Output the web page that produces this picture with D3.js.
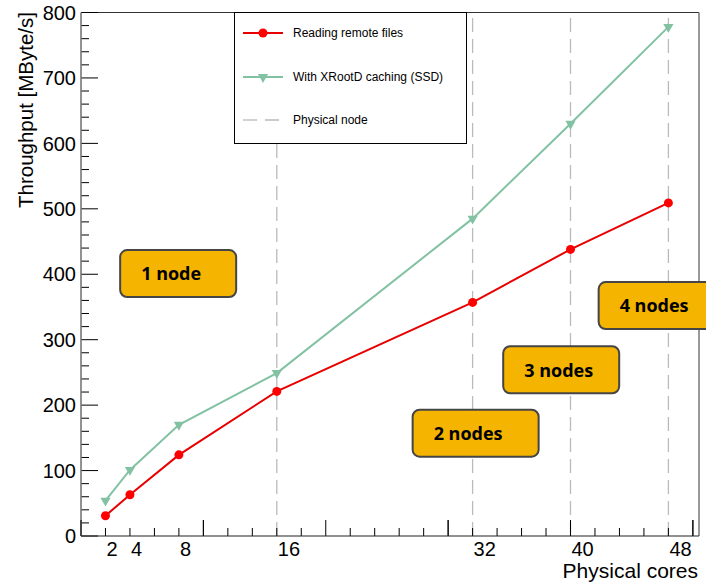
<!DOCTYPE html>
<html lang="en">
    <head>
        <meta charset="utf-8">
        <title>Throughput vs physical cores</title>
        <style>
          body { margin: 0; background: white; }
          svg { display: block; }
          .ticklabel, .title {
            font-family: "Liberation Sans", Arial, sans-serif;
            fill: black;
          }
          .legtext {
            font-family: "Liberation Sans", Arial, sans-serif;
            font-size: 12px;
            fill: black;
          }
          .boxtext {
            font-family: "Open Sans", "Noto Sans", sans-serif;
            font-weight: bold;
            font-size: 18px;
            fill: black;
          }
        </style>
        <script src="https://d3js.org/d3.v7.min.js"></script>
    </head>
    <body>
        <script type="text/javascript">
          // data
          var cores = [2, 4, 8, 16, 32, 40, 48];
          var remote = [31, 63, 124, 221, 357, 438, 509];
          var cached = [54, 101, 170, 249, 485, 630, 778];
          var nodeCores = [16, 32, 40, 48];
          var xTickLabels = ["2", "4", "8", "16", "32", "40", "48"];
          var yTicks = [0, 100, 200, 300, 400, 500, 600, 700, 800];
          var boxLabels = ["1 node", "2 nodes", "3 nodes", "4 nodes"];
          // box anchor in data coords (left core, top throughput)
          var boxCore = [3.2, 27.1, 34.5, 42.3];
          var boxVal = [437, 193, 290, 388];
          var legendNames = ["Reading remote files", "With XRootD caching (SSD)", "Physical node"];

          var w = 706;
          var h = 583;

          var svg = d3.select("body").append("svg")
            .attr("width", w)
            .attr("height", h);

          var x = d3.scaleLinear().domain([0, 50.5]).range([81, 699]);
          var y = d3.scaleLinear().domain([0, 800]).range([536, 12.5]);

          var red = "#e80000";
          var green = "#82c2a3";

          // physical node lines
          svg.selectAll(".nodeline")
            .data(nodeCores)
            .enter().append("line")
            .attr("class", "nodeline")
            .attr("x1", function(d) { return x(d); })
            .attr("x2", function(d) { return x(d); })
            .attr("y1", y(0))
            .attr("y2", y(800))
            .attr("stroke", "#bbbbbb")
            .attr("stroke-width", 1.3)
            .attr("stroke-dasharray", "14,7");

          // frame
          svg.append("line")
            .attr("x1", x(0)).attr("x2", x(50.5))
            .attr("y1", y(800)).attr("y2", y(800))
            .attr("stroke", "#333").attr("stroke-width", 1);
          svg.append("line")
            .attr("x1", x(50.5)).attr("x2", x(50.5))
            .attr("y1", y(800)).attr("y2", y(0))
            .attr("stroke", "#777").attr("stroke-width", 1.5);

          // y axis
          var yMinor = d3.range(0, 801, 20);
          svg.selectAll(".ytick")
            .data(yMinor)
            .enter().append("line")
            .attr("class", "ytick")
            .attr("x1", x(0))
            .attr("x2", function(d) { return x(0) + (d % 100 == 0 ? 17 : 8); })
            .attr("y1", function(d) { return y(d); })
            .attr("y2", function(d) { return y(d); })
            .attr("stroke", "black")
            .attr("stroke-width", 1);
          svg.append("line")
            .attr("x1", x(0)).attr("x2", x(0))
            .attr("y1", y(0)).attr("y2", y(800))
            .attr("stroke", "#777").attr("stroke-width", 1.6);
          svg.selectAll(".ylabel")
            .data(yTicks)
            .enter().append("text")
            .attr("class", "ticklabel")
            .attr("x", x(0) - 5)
            .attr("y", function(d) { return y(d); })
            .attr("dy", "0.36em")
            .attr("text-anchor", "end")
            .style("font-size", "20px")
            .text(function(d) { return d; });

          // x axis
          var xMinor = d3.range(0, 51, 2).concat([10, 30, 50]);
          svg.selectAll(".xtick")
            .data(xMinor)
            .enter().append("line")
            .attr("class", "xtick")
            .attr("x1", function(d) { return x(d); })
            .attr("x2", function(d) { return x(d); })
            .attr("y1", y(0))
            .attr("y2", function(d) { return y(0) - (d % 10 == 0 ? 16 : 8); })
            .attr("stroke", "black")
            .attr("stroke-width", 1);
          svg.append("line")
            .attr("x1", x(0)).attr("x2", x(50.5))
            .attr("y1", y(0)).attr("y2", y(0))
            .attr("stroke", "#222").attr("stroke-width", 1.2);
          svg.selectAll(".xlabel")
            .data(cores)
            .enter().append("text")
            .attr("class", "ticklabel")
            .attr("x", function(d) { return x(d) + 1; })
            .attr("y", 556)
            .attr("text-anchor", "start")
            .style("font-size", "20px")
            .text(function(d, i) { return xTickLabels[i]; });

          // axis titles
          svg.append("text")
            .attr("class", "title")
            .attr("x", 698)
            .attr("y", 578)
            .attr("text-anchor", "end")
            .style("font-size", "21px")
            .text("Physical cores");
          svg.append("text")
            .attr("class", "title")
            .attr("transform", "translate(33,12) rotate(-90)")
            .attr("text-anchor", "end")
            .style("font-size", "20.5px")
            .text("Throughput [MByte/s]");

          // legend
          var leg = svg.append("g");
          leg.append("rect")
            .attr("x", 234.5).attr("y", 12.5)
            .attr("width", 232).attr("height", 131)
            .attr("fill", "white")
            .attr("stroke", "black").attr("stroke-width", 1);
          var legY = [33, 77, 120];
          leg.append("line")
            .attr("x1", 243).attr("x2", 283).attr("y1", legY[0]).attr("y2", legY[0])
            .attr("stroke", red).attr("stroke-width", 2);
          leg.append("circle")
            .attr("cx", 263).attr("cy", legY[0]).attr("r", 4.5).attr("fill", "#ff0000");
          leg.append("line")
            .attr("x1", 243).attr("x2", 283).attr("y1", legY[1]).attr("y2", legY[1])
            .attr("stroke", green).attr("stroke-width", 2);
          leg.append("path")
            .attr("d", d3.symbol().type(d3.symbolTriangle).size(45))
            .attr("transform", "translate(263," + legY[1] + ") rotate(180)")
            .attr("fill", green);
          leg.append("line")
            .attr("x1", 243).attr("x2", 283).attr("y1", legY[2]).attr("y2", legY[2])
            .attr("stroke", "#bbbbbb").attr("stroke-width", 1.3)
            .attr("stroke-dasharray", "14,8");
          leg.selectAll(".legtext")
            .data(legendNames)
            .enter().append("text")
            .attr("class", "legtext")
            .attr("x", 293)
            .attr("y", function(d, i) { return legY[i]; })
            .attr("dy", "0.35em")
            .text(function(d) { return d; });

          // series
          var line = d3.line()
            .x(function(d) { return x(d[0]); })
            .y(function(d) { return y(d[1]); });

          var cachedPts = cores.map(function(c, i) { return [c, cached[i]]; });
          var remotePts = cores.map(function(c, i) { return [c, remote[i]]; });

          svg.append("path")
            .attr("d", line(cachedPts))
            .attr("fill", "none")
            .attr("stroke", green)
            .attr("stroke-width", 2);
          svg.selectAll(".tri")
            .data(cachedPts)
            .enter().append("path")
            .attr("class", "tri")
            .attr("d", d3.symbol().type(d3.symbolTriangle).size(45))
            .attr("transform", function(d) { return "translate(" + x(d[0]) + "," + y(d[1]) + ") rotate(180)"; })
            .attr("fill", green);

          svg.append("path")
            .attr("d", line(remotePts))
            .attr("fill", "none")
            .attr("stroke", red)
            .attr("stroke-width", 2);
          svg.selectAll(".dot")
            .data(remotePts)
            .enter().append("circle")
            .attr("class", "dot")
            .attr("cx", function(d) { return x(d[0]); })
            .attr("cy", function(d) { return y(d[1]); })
            .attr("r", 4.5)
            .attr("fill", "#ff0000");

          // node boxes
          var boxW = [116, 126, 116, 116];
          var boxes = svg.selectAll(".nodebox")
            .data(boxLabels)
            .enter().append("g")
            .attr("class", "nodebox")
            .attr("transform", function(d, i) { return "translate(" + x(boxCore[i]) + "," + y(boxVal[i]) + ")"; });
          boxes.append("rect")
            .attr("width", function(d, i) { return boxW[i]; })
            .attr("height", 47)
            .attr("rx", 7)
            .attr("fill", "#f4b400")
            .attr("stroke", "#454545")
            .attr("stroke-width", 2);
          boxes.append("text")
            .attr("class", "boxtext")
            .attr("x", 21)
            .attr("y", 24)
            .attr("dy", "0.35em")
            .text(function(d) { return d; });
        </script>
    </body>
</html>
